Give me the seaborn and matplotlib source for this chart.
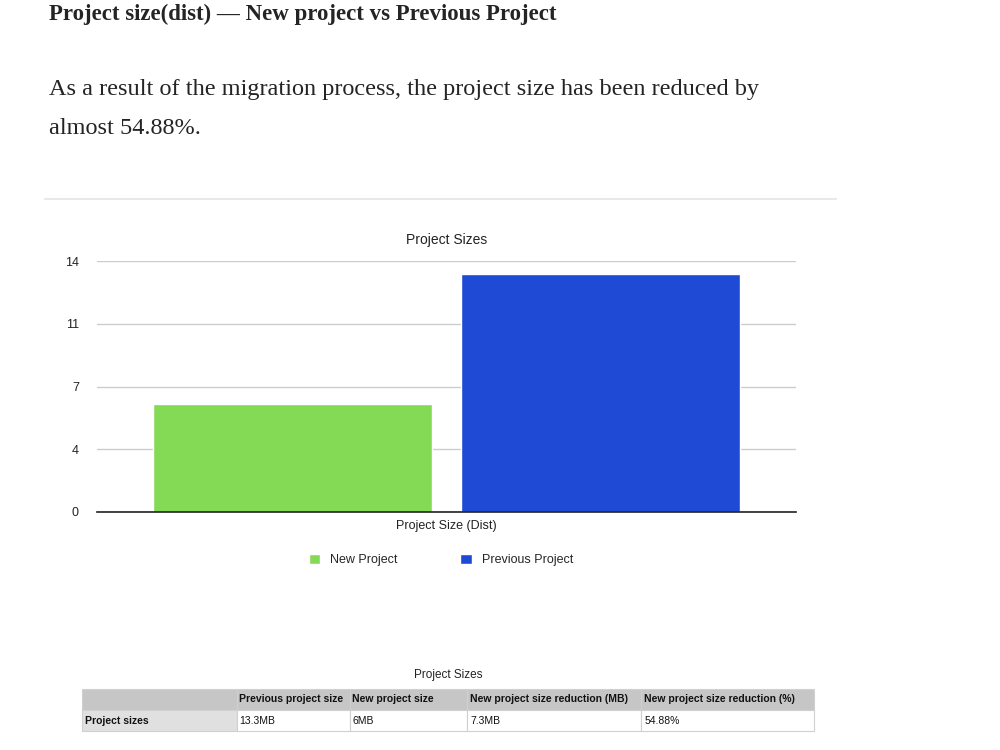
import matplotlib
matplotlib.use("Agg")
import matplotlib.pyplot as plt
import matplotlib.ticker as mticker
import seaborn as sns
import pandas as pd

# =============================
# DATA
# =============================
category = "Project Size (Dist)"
series = ["New Project", "Previous Project"]
sizes_mb = [6.0, 13.3]
colors = ["#84d955", "#1f4ad6"]

y_ticks = [0, 3.5, 7, 10.5, 14]

table_title = "Project Sizes"
table_cols = ["", "Previous project size", "New project size",
              "New project size reduction (MB)", "New project size reduction (%)"]
table_row = ["Project sizes", "13.3MB", "6MB", "7.3MB", "54.88%"]

heading = "Project size(dist) \u2014 New project vs Previous Project"
body_lines = ["As a result of the migration process, the project size has been reduced by",
              "almost 54.88%."]

df = pd.DataFrame({"cat": [category] * len(series), "series": series, "size": sizes_mb})

# =============================
# FIGURE
# =============================
sns.set_theme(style="white")
plt.rcParams["font.family"] = ["Liberation Sans", "DejaVu Sans"]

W, H = 1000, 750
fig = plt.figure(figsize=(10, 7.5), dpi=100)

def fx(px):
    return px / W

def fy(py):
    return 1 - py / H

# blog text
fig.text(fx(49), fy(14), heading, fontsize=16.5, fontweight="bold",
         family="Liberation Serif", color="#242424", va="center", ha="left")
for i, line in enumerate(body_lines):
    fig.text(fx(49), fy(90 + 39 * i), line, fontsize=17.5,
             family="Liberation Serif", color="#242424", va="center", ha="left")

fig.add_artist(plt.Line2D([fx(45), fx(836)], [fy(199), fy(199)],
                          color="#e8e8e8", lw=1.5))

# =============================
# BAR CHART
# =============================
ax = fig.add_axes([fx(97), fy(512), fx(796) - fx(97), fy(261) - fy(512)])
sns.barplot(data=df, x="cat", y="size", hue="series", palette=colors,
            width=0.88, gap=0.093, ax=ax, saturation=1)

ax.set_xlim(-0.5, 0.5)
ax.set_ylim(0, 14)
ax.set_yticks(y_ticks)
ax.yaxis.set_major_formatter(mticker.FuncFormatter(lambda v, p: str(int(v + 0.5))))
ax.set_xticks([])
ax.set_xlabel(category, fontsize=9, color="#222222", labelpad=6)
ax.set_ylabel("")
ax.set_title("Project Sizes", fontsize=10, color="#222222", pad=12)
ax.tick_params(axis="y", length=0, pad=13, labelsize=9, labelcolor="#222222")
ax.grid(axis="y", color="#cccccc", lw=1)
ax.set_axisbelow(True)
for s in ["top", "right", "left"]:
    ax.spines[s].set_visible(False)
ax.spines["bottom"].set_color("#222222")
ax.spines["bottom"].set_linewidth(1.2)

handles, labels = ax.get_legend_handles_labels()
ax.legend(handles, labels, loc="center", bbox_to_anchor=(fx(441), fy(560)),
          bbox_transform=fig.transFigure, ncol=2, frameon=False, fontsize=9,
          handlelength=0.9, handleheight=0.9, handletextpad=0.8, columnspacing=5.0)

# =============================
# TABLE
# =============================
fig.text(fx(448), fy(675), table_title, fontsize=8.5, color="#222222",
         ha="center", va="center")

tax = fig.add_axes([fx(82), fy(731), fx(814) - fx(82), fy(689) - fy(731)])
tax.axis("off")
widths = [155, 113, 117, 174, 173]
tot = sum(widths)
tbl = tax.table(cellText=[table_row], colLabels=table_cols, cellLoc="left",
                colLoc="left", colWidths=[w / tot for w in widths], bbox=[0, 0, 1, 1])
tbl.auto_set_font_size(False)
for (r, c), cell in tbl.get_celld().items():
    cell.set_fontsize(7.5)
    cell.set_edgecolor("#d0d0d0")
    cell.set_linewidth(0.8)
    cell.PAD = 0.02
    if r == 0:
        cell.set_facecolor("#c6c6c6")
        cell.get_text().set_fontweight("bold")
    elif c == 0:
        cell.set_facecolor("#e0e0e0")
        cell.get_text().set_fontweight("bold")
    else:
        cell.set_facecolor("white")
    cell.get_text().set_color("#111111")

fig.savefig("out.png", dpi=100)
